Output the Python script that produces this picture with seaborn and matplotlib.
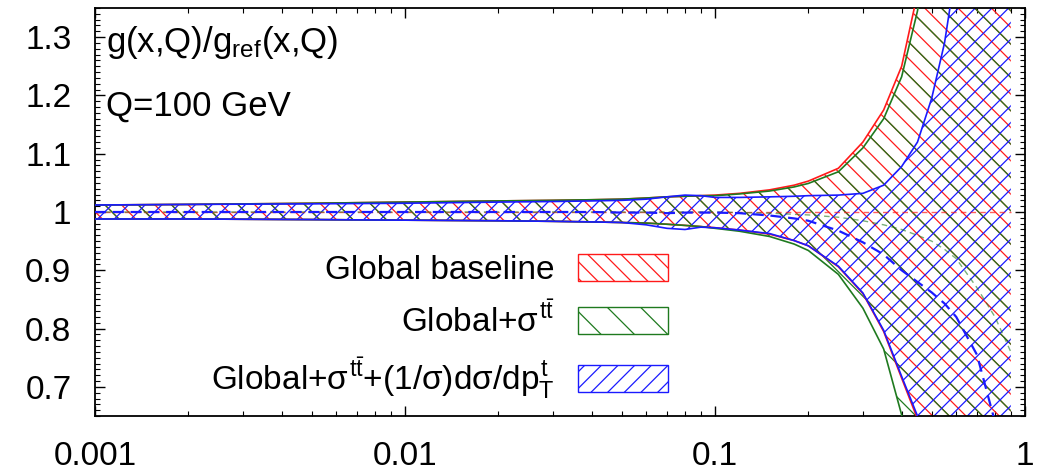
import matplotlib
matplotlib.use("Agg")
import matplotlib.pyplot as plt
import matplotlib.patches as mpatches
from matplotlib.ticker import MultipleLocator, LogLocator, NullFormatter
import seaborn as sns
import pandas as pd

# ---------------- data ----------------
x = [0.001, 0.002, 0.005, 0.01, 0.02, 0.03, 0.04, 0.05, 0.06, 0.07, 0.08, 0.09,
     0.1, 0.12, 0.15, 0.18, 0.2, 0.25, 0.3, 0.35, 0.4, 0.45, 0.5, 0.55, 0.6,
     0.7, 0.8, 0.9]

base_upper = [1.012, 1.013, 1.015, 1.017, 1.019, 1.020, 1.021, 1.022, 1.024, 1.026, 1.027, 1.028,
              1.029, 1.032, 1.038, 1.046, 1.053, 1.075, 1.120, 1.175, 1.250, 1.375, 1.550, 1.800, 2.100,
              2.600, 3.200, 3.800]
base_lower = [0.988, 0.988, 0.987, 0.986, 0.985, 0.984, 0.983, 0.982, 0.981, 0.979, 0.977, 0.975,
              0.973, 0.969, 0.962, 0.951, 0.942, 0.906, 0.860, 0.795, 0.715, 0.645, 0.560, 0.460, 0.350,
              0.100, -0.200, -0.500]
base_central = [1.0, 1.0, 1.0, 1.0, 1.0, 1.0, 1.0, 1.0, 1.0, 1.0, 1.0, 1.0,
                1.0, 1.0, 1.0, 1.0, 1.0, 1.0, 1.0, 1.0, 1.0, 1.0, 1.0, 1.0, 1.0,
                1.0, 1.0, 1.0]

tt_upper = [1.012, 1.013, 1.015, 1.017, 1.019, 1.020, 1.021, 1.022, 1.024, 1.026, 1.027, 1.028,
            1.028, 1.031, 1.036, 1.043, 1.049, 1.069, 1.110, 1.160, 1.232, 1.345, 1.500, 1.750, 2.050,
            2.550, 3.100, 3.700]
tt_lower = [0.988, 0.988, 0.987, 0.986, 0.985, 0.984, 0.983, 0.982, 0.981, 0.979, 0.977, 0.975,
            0.972, 0.967, 0.958, 0.945, 0.934, 0.893, 0.835, 0.765, 0.652, 0.530, 0.400, 0.250, 0.100,
            -0.200, -0.500, -0.800]
tt_central = [1.0, 1.0, 1.0, 1.0, 1.0, 1.0, 1.0, 1.0, 1.0, 1.0, 1.0, 1.0,
              1.0, 0.999, 0.998, 0.996, 0.995, 0.991, 0.985, 0.978, 0.970, 0.960, 0.950, 0.936, 0.920,
              0.870, 0.820, 0.760]

pt_upper = [1.012, 1.013, 1.014, 1.015, 1.017, 1.018, 1.019, 1.020, 1.022, 1.026, 1.029, 1.028,
            1.025, 1.025, 1.026, 1.027, 1.028, 1.029, 1.032, 1.046, 1.078, 1.120, 1.195, 1.290, 1.420,
            1.800, 2.200, 2.600]
pt_lower = [0.988, 0.988, 0.987, 0.986, 0.985, 0.984, 0.983, 0.982, 0.978, 0.972, 0.970, 0.974,
            0.973, 0.969, 0.963, 0.951, 0.942, 0.907, 0.861, 0.797, 0.718, 0.650, 0.560, 0.460, 0.350,
            0.100, -0.200, -0.500]
pt_central = [1.0, 1.0, 1.0, 1.0, 1.0, 1.0, 1.0, 0.999, 0.999, 0.998, 0.999, 0.999,
              0.999, 0.998, 0.994, 0.989, 0.985, 0.968, 0.948, 0.927, 0.900, 0.880, 0.862, 0.843, 0.820,
              0.755, 0.640, 0.450]

labels = ["Global baseline",
          r"Global+$\sigma^{t\bar{t}}$",
          r"Global+$\sigma^{t\bar{t}}$+(1/$\sigma$)d$\sigma$/d$p_T^t$"]

xtick_vals = [0.001, 0.01, 0.1, 1]
xtick_labels = ["0.001", "0.01", "0.1", "1"]
ytick_vals = [0.7, 0.8, 0.9, 1.0, 1.1, 1.2, 1.3]
ytick_labels = ["0.7", "0.8", "0.9", "1", "1.1", "1.2", "1.3"]

# ---------------- style ----------------
sns.set_theme(style="ticks")
plt.rcParams["font.family"] = ["Liberation Sans", "DejaVu Sans"]
plt.rcParams["mathtext.fontset"] = "custom"
plt.rcParams["mathtext.rm"] = "Liberation Sans"
plt.rcParams["mathtext.it"] = "Liberation Sans"
plt.rcParams["mathtext.sf"] = "Liberation Sans"
plt.rcParams["hatch.linewidth"] = 0.9
plt.rcParams["text.color"] = "black"
plt.rcParams["xtick.color"] = "black"
plt.rcParams["ytick.color"] = "black"
plt.rcParams["axes.edgecolor"] = "black"

RED = "#ff1a1a"
GREEN = "#1f7a1f"
BLUE = "#1a1aff"

series = [
    (base_upper, base_lower, base_central, RED, "\\\\"),
    (tt_upper, tt_lower, tt_central, GREEN, "\\"),
    (pt_upper, pt_lower, pt_central, BLUE, "//"),
]

fig = plt.figure(figsize=(10.61, 4.72), dpi=100)
ax = fig.add_axes([95 / 1061, 1 - 416 / 472, 930 / 1061, 408 / 472])
ax.set_xscale("log")

for up, lo, ce, col, hat in series:
    ax.fill_between(x, lo, up, facecolor="none", edgecolor=col, hatch=hat,
                    linewidth=0, zorder=2)

for up, lo, ce, col, hat in series:
    df = pd.DataFrame({"x": x, "up": up, "lo": lo, "ce": ce})
    sns.lineplot(data=df, x="x", y="up", color=col, lw=1.2, ax=ax, zorder=3)
    sns.lineplot(data=df, x="x", y="lo", color=col, lw=1.2, ax=ax, zorder=3)

dfc = pd.DataFrame({"x": x, "b": base_central, "g": tt_central, "p": pt_central})
sns.lineplot(data=dfc, x="x", y="b", color=RED, lw=1.0, ax=ax, zorder=3,
             linestyle=(0, (4, 3)), alpha=0.7)
sns.lineplot(data=dfc, x="x", y="g", color=GREEN, lw=1.0, ax=ax, zorder=3,
             linestyle=(0, (4, 3)), alpha=0.6)
sns.lineplot(data=dfc, x="x", y="p", color=BLUE, lw=1.6, ax=ax, zorder=4,
             linestyle=(0, (5, 3)))

ax.set_xlim(0.001, 1)
ax.set_ylim(0.65, 1.35)
ax.set_xlabel("")
ax.set_ylabel("")

ax.set_xticks(xtick_vals)
ax.set_xticklabels(xtick_labels)
ax.xaxis.set_minor_locator(LogLocator(base=10, subs=range(2, 10)))
ax.xaxis.set_minor_formatter(NullFormatter())
ax.set_yticks(ytick_vals)
ax.set_yticklabels(ytick_labels)
ax.yaxis.set_minor_locator(MultipleLocator(0.01))

ax.tick_params(which="both", direction="in", top=True, right=True,
               labelsize=24, colors="black")
ax.tick_params(which="major", length=7, width=1.0)
ax.tick_params(axis="x", which="major", pad=18)
ax.tick_params(axis="y", which="major", pad=17)
ax.tick_params(which="minor", length=3.5, width=0.8)
for sp in ax.spines.values():
    sp.set_linewidth(1.3)
    sp.set_color("black")

ax.text(0.012, 0.915, r"g(x,Q)/g$_{\rm ref}$(x,Q)", transform=ax.transAxes,
        fontsize=25, ha="left", va="center", color="black")
ax.text(0.012, 0.76, "Q=100 GeV", transform=ax.transAxes,
        fontsize=25, ha="left", va="center", color="black")

handles = [mpatches.Patch(facecolor="white", edgecolor=col, hatch=hat, linewidth=1.0)
           for (_, _, _, col, hat) in series]
leg = ax.legend(handles, labels, loc="upper right",
                bbox_to_anchor=((668 - 95) / 930, (416 - 254) / 408),
                frameon=False, markerfirst=False, fontsize=24,
                handlelength=2.7, handleheight=0.85, handletextpad=0.7,
                labelspacing=0.5, borderpad=0, borderaxespad=0)
for t in leg.get_texts():
    t.set_color("black")

fig.savefig("out.png", dpi=100)
